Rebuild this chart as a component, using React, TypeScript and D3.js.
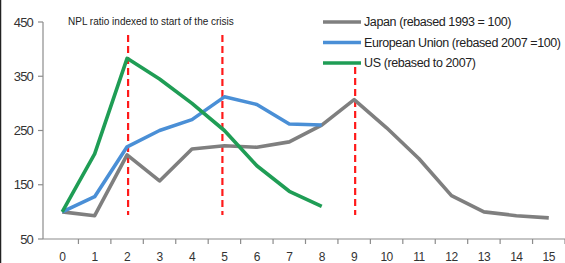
import * as d3 from "d3";

const periods = d3.range(0, 16).map(String);
const japan = [100, 93, 205, 157, 216, 222, 219, 229, 260, 307, 255, 198, 130, 100, 93, 89];
const eu = [100, 128, 220, 250, 270, 312, 298, 262, 260];
const us = [100, 207, 383, 345, 300, 250, 185, 138, 110];
const yTicks = [50, 150, 250, 350, 450];
const crisisMarks = [2, 5, 9];

const series = [
  { name: "Japan (rebased 1993 = 100)", values: japan, color: "#7f7f7f" },
  { name: "European Union (rebased 2007 =100)", values: eu, color: "#4a8fd6" },
  { name: "US (rebased to 2007)", values: us, color: "#1f9d55" },
];

export default function App() {
  const width = 565;
  const height = 263;
  const left = 43;
  const right = 565;
  const top = 22;
  const bottom = 239;

  const x = d3.scaleBand().domain(periods).range([left + 3, right]);
  const cx = (i: number) => (x(String(i)) ?? 0) + x.bandwidth() / 2;
  const y = d3.scaleLinear().domain([50, 450]).range([bottom, top]);

  const line = d3
    .line<number>()
    .x((_, i) => cx(i))
    .y((d) => y(d));

  const font = "'Liberation Sans', Arial, sans-serif";
  const axisColor = "#8c8c8c";

  return (
    <svg
      width={width}
      height={height}
      viewBox={`0 0 ${width} ${height}`}
      style={{ position: "absolute", left: 0, top: 0, background: "#fff" }}
    >
      <line x1={0.5} y1={0} x2={0.5} y2={height} stroke="#222" strokeWidth={1.5} />

      {/* y axis */}
      <line x1={left} y1={top} x2={left} y2={bottom} stroke={axisColor} strokeWidth={1.2} />
      {yTicks.map((t) => (
        <g key={t}>
          <line x1={left - 5} y1={y(t)} x2={left} y2={y(t)} stroke={axisColor} strokeWidth={1.2} />
          <text
            x={left - 10}
            y={y(t)}
            dy="0.35em"
            textAnchor="end"
            fontFamily={font}
            fontSize={13}
            fill="#333"
            letterSpacing={-0.8}
          >
            {t}
          </text>
        </g>
      ))}

      {/* x axis */}
      <line x1={left} y1={bottom} x2={right} y2={bottom} stroke={axisColor} strokeWidth={1.2} />
      {periods.map((p) => (
        <g key={p}>
          <line
            x1={(x(p) ?? 0) + x.bandwidth()}
            y1={bottom}
            x2={(x(p) ?? 0) + x.bandwidth()}
            y2={bottom + 5}
            stroke={axisColor}
            strokeWidth={1.2}
          />
          <text
            x={(x(p) ?? 0) + x.bandwidth() / 2}
            y={bottom + 22}
            textAnchor="middle"
            fontFamily={font}
            fontSize={12}
            fill="#333"
            letterSpacing={-0.5}
          >
            {p}
          </text>
        </g>
      ))}

      {/* crisis markers */}
      {crisisMarks.map((m, i) => (
        <line
          key={m}
          x1={cx(m) + (m === 5 ? -2 : 1)}
          y1={i === 2 ? 67 : 35}
          x2={cx(m) + (m === 5 ? -2 : 1)}
          y2={215}
          stroke="#ff1a1a"
          strokeWidth={2.2}
          strokeDasharray="7,4"
        />
      ))}

      {/* series */}
      {series.map((s) => (
        <path
          key={s.name}
          d={line(s.values) ?? ""}
          fill="none"
          stroke={s.color}
          strokeWidth={3.6}
          strokeLinejoin="round"
        />
      ))}

      <text x={68} y={25} fontFamily={font} fontSize={10} fill="#222">
        NPL ratio indexed to start of the crisis
      </text>

      {/* legend */}
      {series.map((s, i) => (
        <g key={s.name} transform={`translate(323, ${22 + i * 20.5})`}>
          <line x1={0} y1={0} x2={38} y2={0} stroke={s.color} strokeWidth={3.6} />
          <text
            x={41}
            y={0}
            dy="0.35em"
            fontFamily={font}
            fontSize={12.5}
            fill="#222"
            letterSpacing={-0.4}
          >
            {s.name}
          </text>
        </g>
      ))}
    </svg>
  );
}
